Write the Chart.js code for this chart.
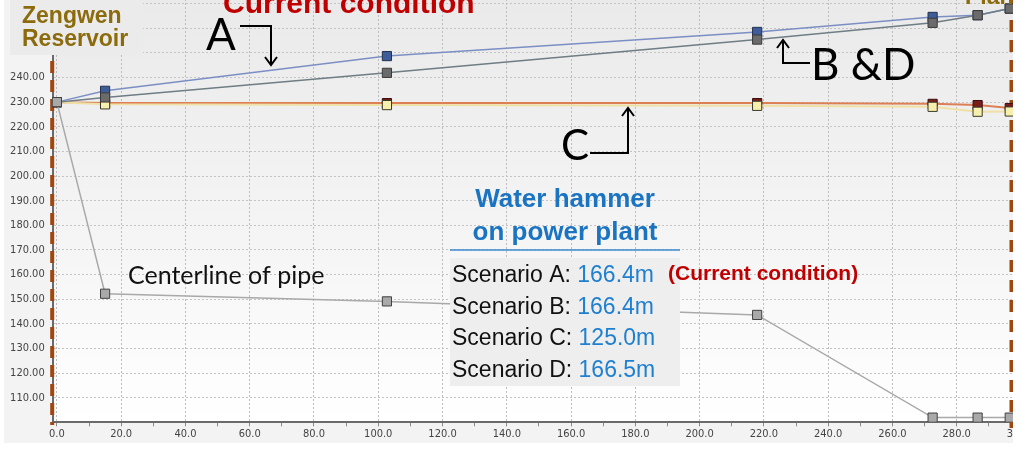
<!DOCTYPE html>
<html>
<head>
<meta charset="utf-8">
<script src="https://cdn.jsdelivr.net/npm/chart.js@4.4.0/dist/chart.umd.min.js"></script>
<style>
html, body { margin: 0; padding: 0; background: #fff; overflow: hidden; }
#crop { position: absolute; left: 0; top: 0; width: 1013px; height: 455px; overflow: hidden; }
#holder { position: absolute; left: 0; top: -30px; width: 1041px; height: 473px; }
</style>
</head>
<body>
<div id="crop"><div id="holder"><canvas id="profile"></canvas></div></div>
<script>
// canvas is pushed up so the top of the plot is cut like in the screenshot
const SHIFT = 30;

// distance along the pipe
const distance = [0, 15, 102.7, 217.9, 272.5, 286.5, 296.5];

// hydraulic grade lines (m)
const lineA = [230, 234.6, 248.7, 258.5, 264.6, 265.3, 268.0];
const lineBD = [230, 231.9, 241.9, 255.4, 262.2, 265.3, 268.0];
const lineC = [230, 229.6, 229.6, 229.6, 229.3, 228.8, 227.6];
const lineC2 = [230, 229.1, 228.8, 228.5, 228.1, 226.1, 226.2];
const pipeCenter = [230, 152.2, 149.1, 143.6, 101.9, 101.9, 101.9];

const xTickValues = [0, 10, 20, 30, 40, 50, 60, 70, 80, 90, 100, 110, 120, 130, 140, 150,
    160, 170, 180, 190, 200, 210, 220, 230, 240, 250, 260, 270, 280, 290, 300];
const yTickValues = [110, 120, 130, 140, 150, 160, 170, 180, 190, 200, 210, 220, 230, 240,
    250, 260, 270, 280];

const scenarios = [
    {name: "Scenario A: ", value: "166.4m"},
    {name: "Scenario B: ", value: "166.4m"},
    {name: "Scenario C: ", value: "125.0m"},
    {name: "Scenario D: ", value: "166.5m"}
];

function pts(values){
    return distance.map((d, i) => ({x: d, y: values[i]}));
}

function series(label, values, line, fill, edge, width, order){
    return {
        label: label,
        data: pts(values),
        borderColor: line,
        borderWidth: width,
        pointStyle: 'rect',
        pointRadius: 6.5,
        pointBackgroundColor: fill,
        pointBorderColor: edge,
        pointBorderWidth: 1,
        tension: 0,
        order: order
    };
}

function arrow(ctx, path, head){
    ctx.beginPath();
    ctx.moveTo(path[0][0], path[0][1]);
    for(let i = 1; i < path.length; i++) ctx.lineTo(path[i][0], path[i][1]);
    ctx.stroke();
    const [tx, ty] = path[path.length - 1];
    ctx.beginPath();
    if(head === 'down'){
        ctx.moveTo(tx - 6, ty - 8); ctx.lineTo(tx, ty); ctx.lineTo(tx + 6, ty - 8);
    } else {
        ctx.moveTo(tx - 6, ty + 8); ctx.lineTo(tx, ty); ctx.lineTo(tx + 6, ty + 8);
    }
    ctx.stroke();
}

const backdrop = {
    id: 'backdrop',
    beforeDraw(chart){
        const ctx = chart.ctx;
        const a = chart.chartArea;
        ctx.save();
        ctx.fillStyle = '#f3f3f3';
        ctx.fillRect(4, 0, chart.width, 443 + SHIFT);
        const g = ctx.createLinearGradient(0, a.top, 0, a.bottom);
        g.addColorStop(0, '#e9e9e9');
        g.addColorStop(0.55, '#f4f4f4');
        g.addColorStop(1, '#ffffff');
        ctx.fillStyle = g;
        ctx.fillRect(a.left, a.top, a.right - a.left, a.bottom - a.top);
        ctx.restore();
    },
    beforeDatasetsDraw(chart){
        // dashed brown markers for reservoir and plant
        const ctx = chart.ctx;
        const x = chart.scales.x;
        ctx.save();
        ctx.translate(0, SHIFT);
        ctx.strokeStyle = '#a0470f';
        ctx.lineWidth = 4;
        ctx.setLineDash([12, 7]);
        ctx.beginPath();
        ctx.moveTo(x.left - 0.5, 42); ctx.lineTo(x.left - 0.5, 425);
        ctx.stroke();
        ctx.setLineDash([12, 8]);
        ctx.beginPath();
        ctx.moveTo(1011.5, 0); ctx.lineTo(1011.5, 428);
        ctx.stroke();
        ctx.restore();
    },
    afterDraw(chart){
        const ctx = chart.ctx;
        ctx.save();
        ctx.translate(0, SHIFT);
        ctx.textBaseline = 'alphabetic';
        ctx.textAlign = 'left';

        // reservoir / plant
        ctx.fillStyle = '#ebebeb';
        ctx.fillRect(10, 0, 133, 55);
        ctx.fillStyle = '#8b6b0c';
        ctx.font = 'bold 23px "Liberation Sans", Arial, sans-serif';
        ctx.fillText('Zengwen', 22, 23);
        ctx.fillText('Reservoir', 22, 46);
        ctx.fillText('Plant', 965, 4);

        ctx.fillStyle = '#c00000';
        ctx.font = 'bold 30px "Liberation Sans", Arial, sans-serif';
        ctx.fillText('Current condition', 223, 13);

        // scenario labels with arrows
        ctx.fillStyle = '#000';
        ctx.strokeStyle = '#000';
        ctx.lineWidth = 2;
        ctx.font = '44px Lato, sans-serif';
        ctx.fillText('A', 206, 50);
        ctx.fillText('B &D', 811, 80);
        ctx.font = '42px Lato, sans-serif';
        ctx.fillText('C', 561, 160);
        arrow(ctx, [[240, 26], [271, 26], [271, 65]], 'down');
        arrow(ctx, [[810, 63], [783, 63], [783, 40]], 'up');
        arrow(ctx, [[590, 153], [628, 153], [628, 108]], 'up');

        ctx.fillStyle = '#111';
        ctx.font = '25px Lato, sans-serif';
        ctx.fillText('Centerline of pipe', 128, 284);

        // water hammer panel
        ctx.fillStyle = '#1a74c2';
        ctx.font = 'bold 26px "Liberation Sans", Arial, sans-serif';
        ctx.textAlign = 'center';
        ctx.fillText('Water hammer', 565, 207);
        ctx.fillText('on power plant', 565, 240);
        ctx.strokeStyle = '#3b8ad0';
        ctx.lineWidth = 1.5;
        ctx.beginPath();
        ctx.moveTo(450, 250); ctx.lineTo(680, 250);
        ctx.stroke();

        ctx.fillStyle = '#eeeeee';
        ctx.fillRect(450, 258, 230, 128);
        ctx.textAlign = 'left';
        ctx.font = '23px "Liberation Sans", Arial, sans-serif';
        scenarios.forEach((s, i) => {
            const y = 282 + i * 31.6;
            ctx.fillStyle = '#111';
            ctx.fillText(s.name, 452, y);
            const w = ctx.measureText(s.name).width;
            ctx.fillStyle = '#1f7fd0';
            ctx.fillText(s.value, 452 + w, y);
        });
        ctx.fillStyle = '#c00000';
        ctx.font = 'bold 21px "Liberation Sans", Arial, sans-serif';
        ctx.fillText('(Current condition)', 668, 280);
        ctx.restore();
    }
};

const tickFont = {family: '"DejaVu Sans Condensed", "DejaVu Sans"', size: 11};

new Chart(document.getElementById('profile'), {
    type: 'line',
    data: {
        datasets: [
            series('Centerline of pipe', pipeCenter, '#a9a9a9', '#a9a9a9', '#404040', 1.5, 0),
            series('A', lineA, '#7b8fc4', '#3e5c9a', '#24324f', 1.5, 2),
            series('B & D', lineBD, '#6f7d84', '#6b6b6b', '#3a3a3a', 1.5, 1),
            series('C', lineC, '#dc7f55', '#7a1c1c', '#3a1010', 2, 4),
            series('C2', lineC2, '#efe0a6', '#f6efae', '#3a3a2a', 2, 3)
        ]
    },
    options: {
        responsive: true,
        maintainAspectRatio: false,
        devicePixelRatio: 1,
        animation: false,
        layout: {padding: {left: 4, top: 9, right: 20, bottom: 0}},
        plugins: {legend: {display: false}, tooltip: {enabled: false}},
        scales: {
            x: {
                type: 'linear',
                min: -1.3,
                max: 300,
                afterBuildTicks: axis => { axis.ticks = xTickValues.map(v => ({value: v})); },
                afterFit: scale => {
                    scale.height = 20.7;
                    scale.paddingLeft = 0;
                    scale.paddingRight = 0;
                },
                ticks: {
                    autoSkip: false,
                    maxRotation: 0,
                    padding: 1,
                    color: '#444',
                    font: tickFont,
                    callback: v => v % 20 === 0 ? v.toFixed(1) : ''
                },
                grid: {
                    color: c => (c.tick && c.tick.value % 20 === 0) ? '#bdbdbd' : 'rgba(0,0,0,0)',
                    tickColor: '#8a8a8a',
                    tickLength: 4
                },
                border: {display: true, color: '#6a6a6a', width: 2, dash: [2, 2]}
            },
            y: {
                min: 100,
                max: 280,
                afterBuildTicks: axis => { axis.ticks = yTickValues.map(v => ({value: v})); },
                afterFit: scale => {
                    scale.width = 48.7;
                    scale.paddingTop = 0;
                    scale.paddingBottom = 0;
                },
                ticks: {
                    padding: 8,
                    color: '#444',
                    font: tickFont,
                    callback: v => v <= 240 ? v.toFixed(2) : ''
                },
                grid: {color: '#c4c4c4', drawTicks: false},
                border: {display: true, color: '#6a6a6a', width: 2, dash: [2, 2]}
            }
        }
    },
    plugins: [backdrop]
});
</script>
</body>
</html>
